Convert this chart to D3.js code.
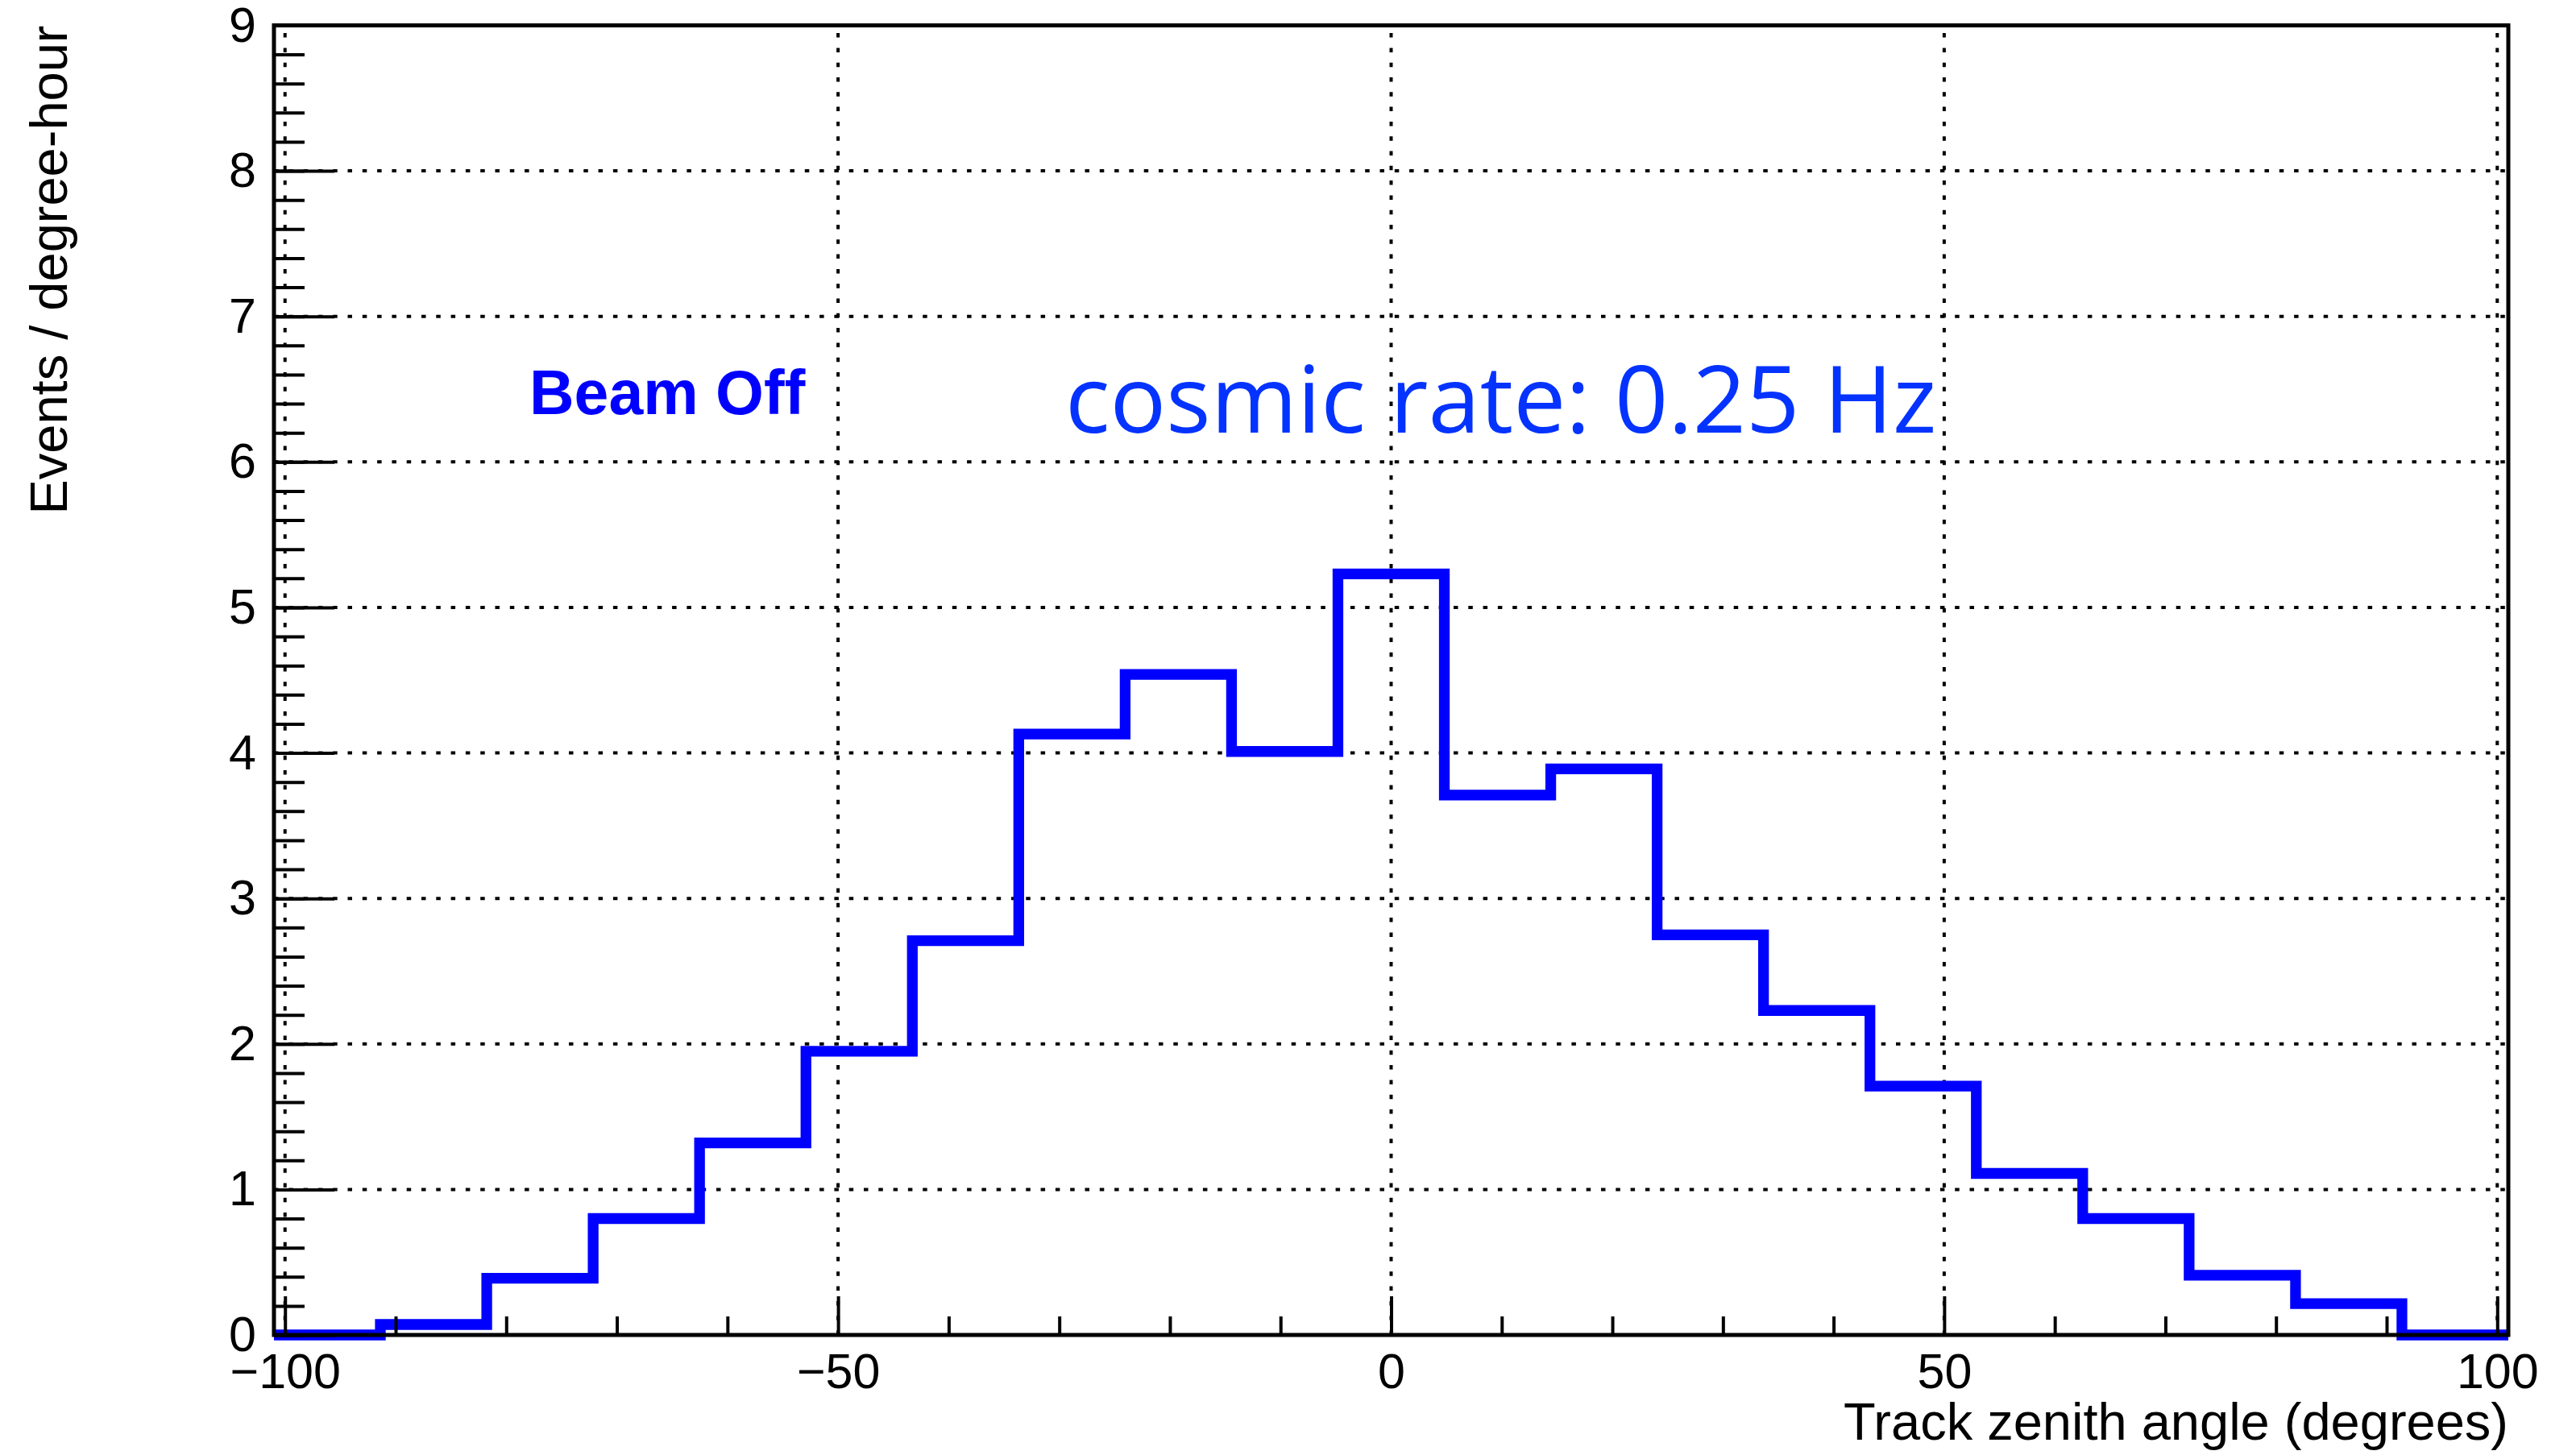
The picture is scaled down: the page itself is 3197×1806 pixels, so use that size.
<!DOCTYPE html>
<html>
<head>
<meta charset="utf-8">
<script src="https://cdn.jsdelivr.net/npm/d3@7"></script>
<style>
  html, body { margin: 0; padding: 0; background: #ffffff; }
  svg { display: block; }
</style>
</head>
<body>
<svg id="chart" width="3197" height="1806"></svg>
<script>
// Histogram: cosmic track zenith angle, beam off
const xRange = [-101, 101];
const binCount = 21;
const rates = [0.00, 0.072, 0.39, 0.80, 1.32, 1.95, 2.71, 4.13, 4.54, 4.01, 5.23,
               3.71, 3.89, 2.75, 2.23, 1.71, 1.11, 0.80, 0.41, 0.215, 0.00];

const xMajorTicks = [-100, -50, 0, 50, 100];
const xTickLabels = ["\u2212100", "\u221250", "0", "50", "100"];
const xMinorTicks = [-90, -80, -70, -60, -40, -30, -20, -10, 10, 20, 30, 40, 60, 70, 80, 90];
const yMajorTicks = [0, 1, 2, 3, 4, 5, 6, 7, 8, 9];
const yTickLabels = ["0", "1", "2", "3", "4", "5", "6", "7", "8", "9"];

const xTitle = "Track zenith angle (degrees)";
const yTitle = "Events / degree-hour";
const tagText = "Beam Off";
const rateText = "cosmic rate: 0.25 Hz";

const W = 3197, H = 1806;
const frame = { left: 340, right: 3113, top: 31.5, bottom: 1657 };
const font = "'Liberation Sans', Arial, Helvetica, sans-serif";

const svg = d3.select("#chart");
svg.append("rect").attr("width", W).attr("height", H).attr("fill", "#ffffff");

const x = d3.scaleLinear().domain(xRange).range([frame.left, frame.right]);
const y = d3.scaleLinear().domain([0, 9]).range([frame.bottom, frame.top]);

// dotted grid
const grid = svg.append("g")
  .attr("stroke", "#000").attr("stroke-width", 4)
  .attr("stroke-dasharray", "5.5 12.8").attr("fill", "none");
grid.selectAll("line.v").data(xMajorTicks).join("line").attr("class", "v")
  .attr("x1", d => x(d)).attr("x2", d => x(d))
  .attr("y1", frame.bottom).attr("y2", frame.top);
grid.selectAll("line.h").data(yMajorTicks).join("line").attr("class", "h")
  .attr("x1", frame.left).attr("x2", frame.right)
  .attr("y1", d => y(d)).attr("y2", d => y(d));

// histogram outline
const binWidth = (xRange[1] - xRange[0]) / binCount;
const pts = rates.map((v, i) => [xRange[0] + i * binWidth, v]);
pts.push([xRange[1], rates[rates.length - 1]]);
const stepLine = d3.line().x(d => x(d[0])).y(d => y(d[1])).curve(d3.curveStepAfter);
svg.append("path")
  .attr("d", stepLine(pts))
  .attr("fill", "none").attr("stroke", "#0000ff")
  .attr("stroke-width", 13.3).attr("stroke-linejoin", "miter").attr("stroke-linecap", "butt");

// x axis: minor ticks, then major ticks with labels
const xAxisG = svg.append("g").attr("transform", `translate(0,${frame.bottom})`);
xAxisG.append("g")
  .call(d3.axisBottom(x).tickValues(xMinorTicks).tickSizeInner(-23).tickSizeOuter(0).tickFormat(""))
  .call(g => g.select(".domain").remove());
xAxisG.append("g")
  .call(d3.axisBottom(x).tickValues(xMajorTicks).tickSizeInner(-48).tickSizeOuter(0)
    .tickPadding(23).tickFormat((d, i) => xTickLabels[i]))
  .call(g => g.select(".domain").remove());

// y axis
const yAxisG = svg.append("g").attr("transform", `translate(${frame.left},0)`);
yAxisG.append("g")
  .call(d3.axisLeft(y).ticks(45).tickSizeInner(-38).tickSizeOuter(0).tickFormat(""))
  .call(g => g.select(".domain").remove());
yAxisG.append("g")
  .call(d3.axisLeft(y).tickValues(yMajorTicks).tickSizeInner(-75).tickSizeOuter(0)
    .tickPadding(22).tickFormat((d, i) => yTickLabels[i]))
  .call(g => g.select(".domain").remove());

svg.selectAll(".tick line").attr("stroke", "#000").attr("stroke-width", 4);
svg.selectAll(".tick text")
  .attr("fill", "#000").attr("font-family", font).attr("font-size", 61);

// frame
svg.append("rect")
  .attr("x", frame.left).attr("y", frame.top)
  .attr("width", frame.right - frame.left).attr("height", frame.bottom - frame.top)
  .attr("fill", "none").attr("stroke", "#000").attr("stroke-width", 5);

// axis titles
svg.append("text")
  .attr("x", frame.right).attr("y", 1787)
  .attr("text-anchor", "end")
  .attr("font-family", font).attr("font-size", 65).attr("fill", "#000")
  .text(xTitle);
svg.append("text")
  .attr("transform", `translate(83,${frame.top}) rotate(-90)`)
  .attr("text-anchor", "end")
  .attr("font-family", font).attr("font-size", 65).attr("fill", "#000")
  .text(yTitle);

// annotations
svg.append("text")
  .attr("x", 657).attr("y", 514)
  .attr("font-family", font).attr("font-weight", "bold").attr("font-size", 77)
  .attr("fill", "#0000ff")
  .text(tagText);
svg.append("text")
  .attr("x", 1322).attr("y", 537)
  .attr("font-family", "'Open Sans', 'Noto Sans', sans-serif").attr("font-size", 116)
  .attr("fill", "#0433ff")
  .text(rateText);
</script>
</body>
</html>
